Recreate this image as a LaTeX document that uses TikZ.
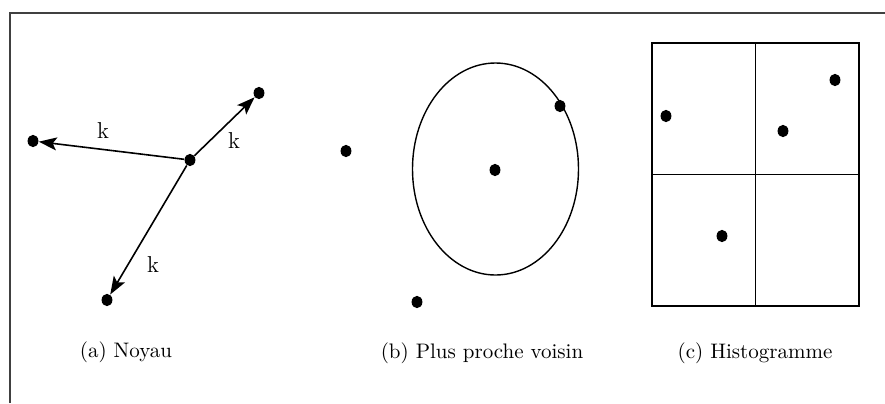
\documentclass[tikz,border=0pt]{standalone}
\usetikzlibrary{arrows.meta,shapes.geometric}
\begin{document}
\begin{tikzpicture}[x=0.5pt,y=-0.5pt,
  dot/.style={ellipse,fill=black,inner sep=0pt,minimum width=5.4pt,minimum height=6.2pt},
  conn/.style={line width=0.8pt,-{Stealth[length=9pt,width=6.5pt,inset=2pt]}},
  lbl/.style={font=\fontsize{11.5}{13}\selectfont,inner sep=0pt},
  captext/.style={font=\fontsize{10.5}{12}\selectfont,inner sep=0pt},
  frameline/.style={line width=1pt,draw=black!75},
  thinline/.style={line width=0.7pt}]
\useasboundingbox (0,0) rectangle (885,403);
\draw[frameline] (10,403) -- (10,13) -- (885,13);
% (a)
\node[dot] (c) at (190,160) {};
\node[dot] (l) at (33,141) {};
\node[dot] (u) at (259,93) {};
\node[dot] (d) at (107,300) {};
\draw[conn] (c) -- (l);
\draw[conn] (c) -- (u);
\draw[conn] (c) -- (d);
\node[lbl] (k1) at (103,131) {k};
\node[lbl] (k2) at (234,141) {k};
\node[lbl] (k3) at (153,265) {k};
\node[captext] (ca) at (126,352) {(a) Noyau};
% (b)
\node[dot] (b1) at (346,151) {};
\node[dot] (b0) at (495,170) {};
\node[dot] (b2) at (560,106) {};
\node[dot] (b3) at (417,302) {};
\draw[thinline] (495.5,169) ellipse [x radius=83, y radius=106];
\node[captext] (cb) at (482,353) {(b) Plus proche voisin};
% (c)
\draw[thinline] (652,43) rectangle (859,306);
\draw[thinline] (755.5,43) -- (755.5,306);
\draw[thinline] (652,174.5) -- (859,174.5);
\node[dot] (h1) at (666,116) {};
\node[dot] (h2) at (835,80) {};
\node[dot] (h3) at (783,131) {};
\node[dot] (h4) at (722,236) {};
\node[captext] (cc) at (755,353) {(c) Histogramme};
\end{tikzpicture}
\end{document}
